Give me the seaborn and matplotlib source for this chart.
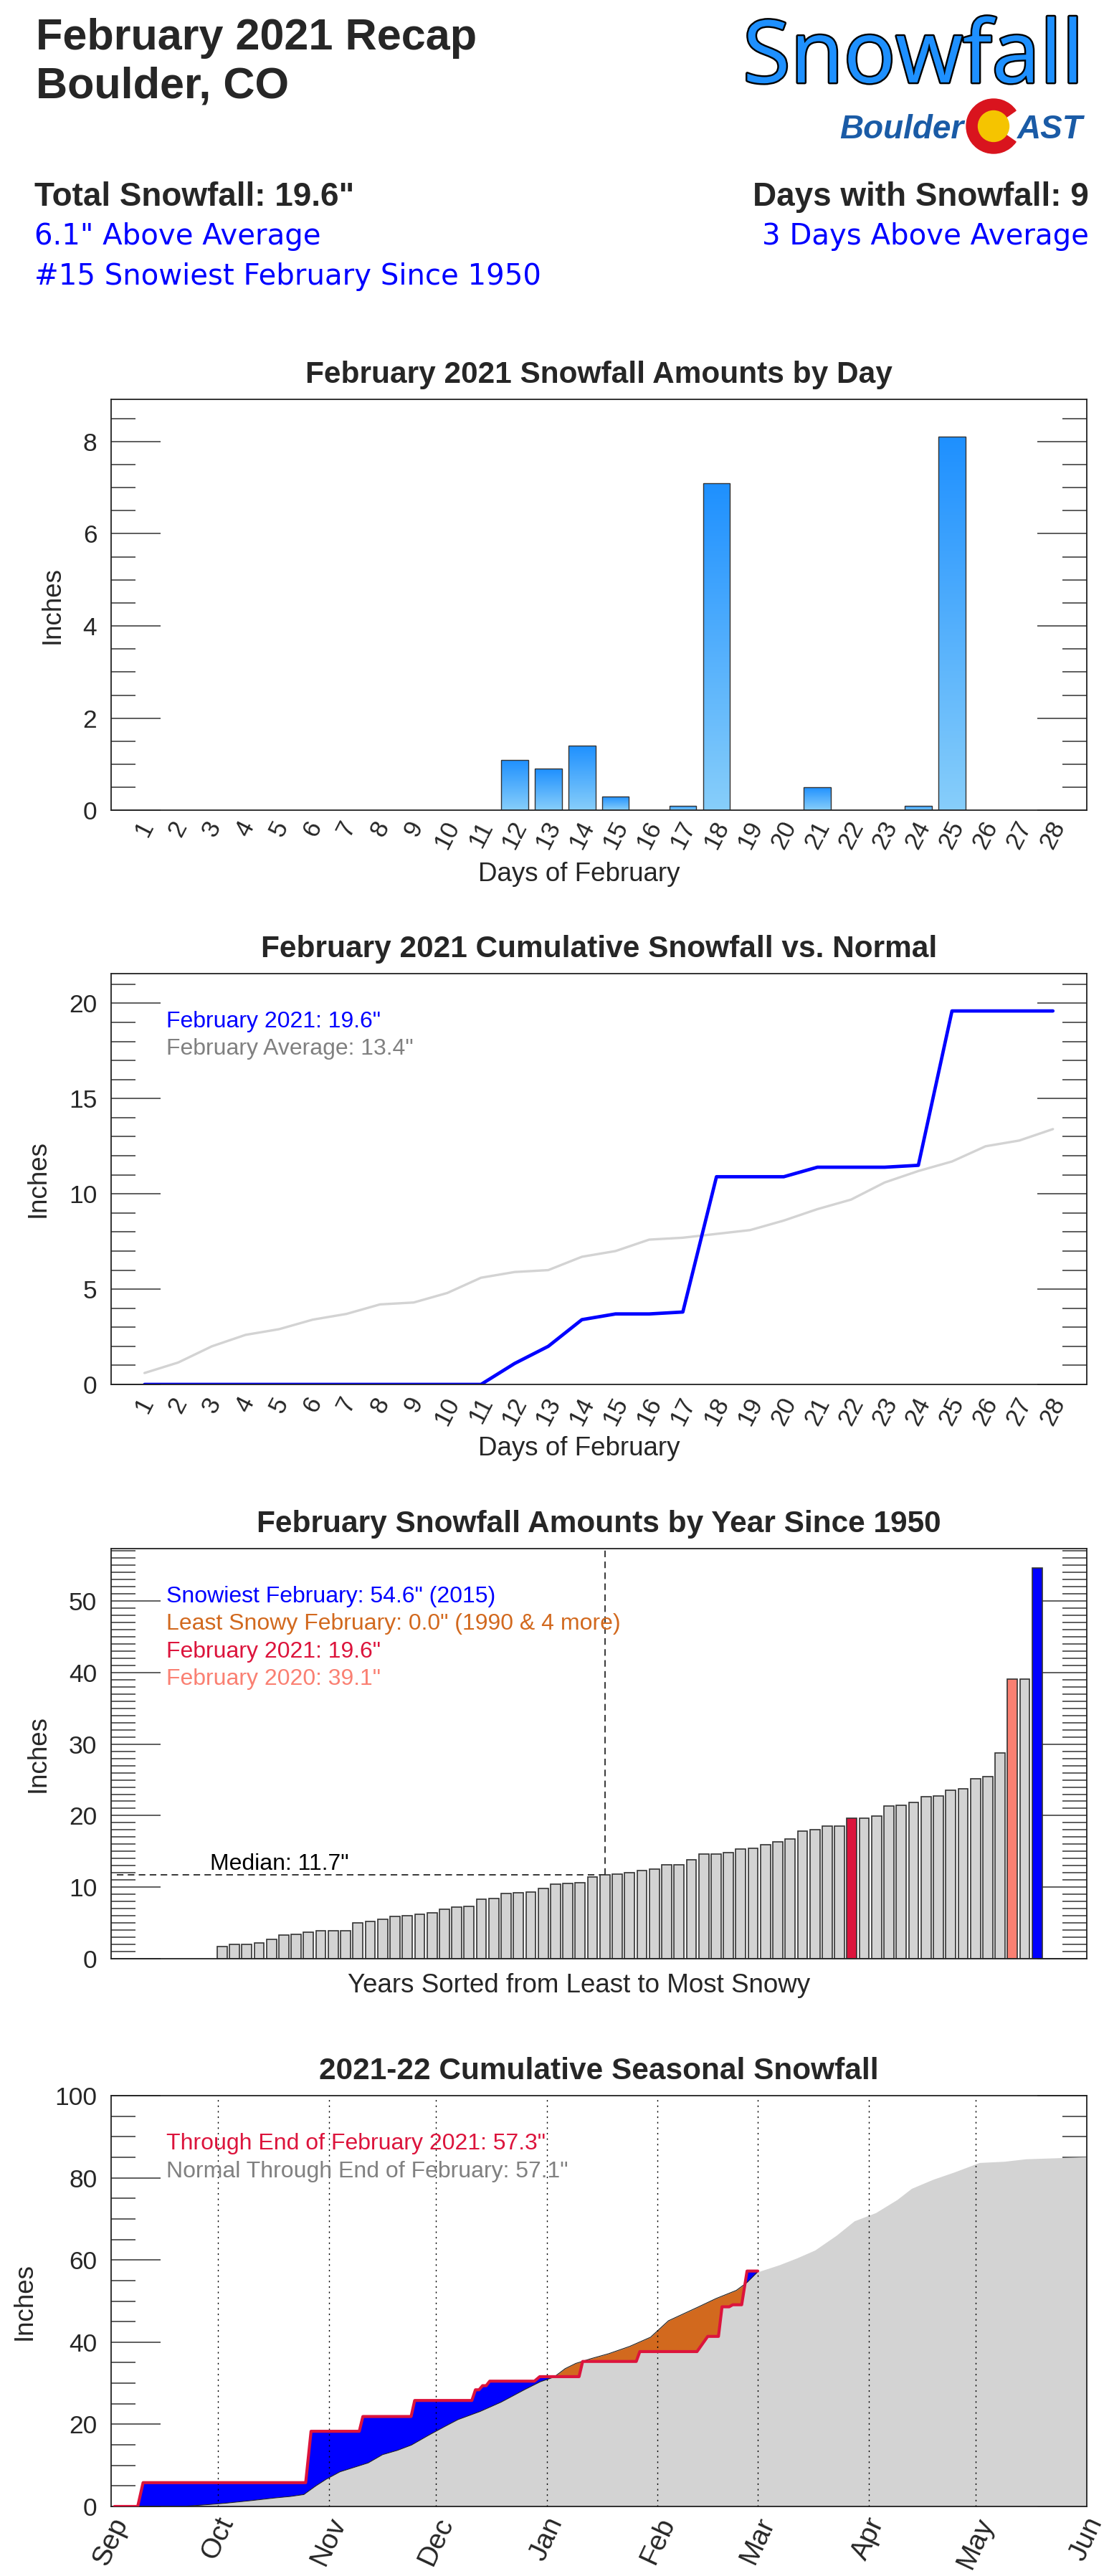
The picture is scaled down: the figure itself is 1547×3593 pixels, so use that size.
import numpy as np
import pandas as pd
import matplotlib
matplotlib.use("Agg")
import matplotlib.pyplot as plt
import seaborn as sns
from matplotlib.patches import Wedge, Circle
from matplotlib.colors import LinearSegmentedColormap
from matplotlib.ticker import MultipleLocator
import matplotlib.patheffects as pe

# ---------------- data ----------------
feb_days = list(range(1, 29))
feb_daily_snow = [0, 0, 0, 0, 0, 0, 0, 0, 0, 0, 0, 1.1, 0.9, 1.4, 0.3, 0, 0.1, 7.1,
                  0, 0, 0.5, 0, 0, 0.1, 8.1, 0, 0, 0]
feb_cum_2021 = [0, 0, 0, 0, 0, 0, 0, 0, 0, 0, 0, 1.1, 2.0, 3.4, 3.7, 3.7, 3.8, 10.9,
                10.9, 10.9, 11.4, 11.4, 11.4, 11.5, 19.6, 19.6, 19.6, 19.6]
feb_cum_normal = [0.6, 1.15, 2.0, 2.6, 2.9, 3.4, 3.7, 4.2, 4.3, 4.8, 5.6, 5.9, 6.0, 6.7,
                  7.0, 7.6, 7.7, 7.9, 8.1, 8.6, 9.2, 9.7, 10.6, 11.2, 11.7, 12.5, 12.8, 13.4]

# February totals 1950-2021, sorted least -> most snowy
year_sorted_snow = [0.0, 0.0, 0.0, 0.0, 0.0, 1.7, 2.0, 2.0, 2.2, 2.7, 3.3, 3.4, 3.7, 3.9,
                    3.9, 3.9, 5.0, 5.2, 5.5, 5.9, 6.0, 6.2, 6.4, 6.9, 7.2, 7.3, 8.3, 8.4,
                    9.1, 9.2, 9.3, 9.8, 10.4, 10.5, 10.6, 11.4, 11.7, 11.8, 12.0, 12.3,
                    12.5, 13.1, 13.1, 13.8, 14.6, 14.6, 14.8, 15.3, 15.4, 15.9, 16.3, 16.7,
                    17.8, 18.0, 18.5, 18.5, 19.6, 19.6, 19.9, 21.3, 21.4, 21.8, 22.7, 22.8,
                    23.6, 23.8, 25.2, 25.5, 28.8, 39.1, 39.1, 54.6]
year_highlight_rank = {56: '#DC143C', 69: '#FA8072', 71: '#0000FF'}  # 2021, 2020, snowiest

# season cumulative (days since Sep 1)
season_days_2021 = [1, 7.5, 9, 54.5, 56, 69.5, 70.5, 84, 85, 101, 102, 103, 104, 105, 106,
                    118.5, 120, 131, 132, 147, 148, 164, 167, 170, 171, 173, 174, 176.5, 178, 181]
season_cum_2021 = [0, 0, 5.8, 5.8, 18.3, 18.3, 21.9, 21.9, 25.8, 25.8, 28.4, 28.4, 29.4, 29.4,
                   30.5, 30.5, 31.6, 31.6, 35.3, 35.3, 37.7, 37.7, 41.4, 41.4, 48.6, 48.6,
                   49.1, 49.1, 57.3, 57.3]
normal_days = [0, 20, 25, 31, 38, 45, 50, 54, 57, 60, 64, 68, 72, 76, 80, 84, 88, 92, 97, 103,
               109, 115, 120, 124, 127, 130, 134, 139, 145, 151, 156, 163, 169, 175, 178, 181,
               187, 192, 197, 203, 208, 214, 220, 224, 230, 236, 243, 250, 256, 273]
normal_cum = [0, 0, 0.3, 0.7, 1.3, 2.0, 2.4, 2.9, 4.8, 6.5, 8.4, 9.5, 10.6, 12.6, 13.6, 14.9,
              16.9, 18.8, 21.1, 23.0, 25.3, 28.1, 30.3, 31.5, 33.5, 34.8, 35.9, 37.1, 38.9,
              41.2, 45.2, 48.0, 50.5, 52.6, 54.5, 57.1, 58.8, 60.5, 62.4, 66.0, 69.5, 71.5,
              74.7, 77.4, 79.6, 81.4, 83.7, 84.0, 84.6, 85.1]
month_labels = ['Sep', 'Oct', 'Nov', 'Dec', 'Jan', 'Feb', 'Mar', 'Apr', 'May', 'Jun']
month_offsets = [0, 30, 61, 91, 122, 153, 181, 212, 242, 273]

# ---------------- style ----------------
sns.set_style("white")
plt.rcParams['font.family'] = ['Liberation Sans', 'DejaVu Sans']

W, H = 1547, 3593
fig = plt.figure(figsize=(W / 100, H / 100), dpi=100)


def axes_px(l, t, r, b):
    return fig.add_axes([l / W, 1 - b / H, (r - l) / W, (b - t) / H])


L, R = 154.7, 1515.7
ax1 = axes_px(L, 557.3, R, 1130.3)
ax2 = axes_px(L, 1358, R, 1931)
ax3 = axes_px(L, 2160, R, 2732)
ax4 = axes_px(L, 2923, R, 3496)

TITLE_KW = dict(fontsize=30.5, fontweight='bold', pad=16.5)
LAB_FS = 26.5
LEG_FS = 23


def style_axes(ax, major, minor):
    ax.yaxis.set_major_locator(MultipleLocator(major))
    ax.yaxis.set_minor_locator(MultipleLocator(minor))
    ax.tick_params(axis='y', which='major', direction='in', length=49.7, width=1.1,
                   color='#333333', left=True, right=True, labelsize=25.5, pad=14)
    ax.tick_params(axis='y', which='minor', direction='in', length=24.5, width=1.1,
                   color='#333333', left=True, right=True)
    ax.tick_params(axis='x', which='both', length=0, bottom=False, top=False)
    for s in ax.spines.values():
        s.set_visible(True)
        s.set_linewidth(1.3)
        s.set_color('#222222')
    ax.set_ylabel('Inches', fontsize=LAB_FS, labelpad=18)


def legend_lines(ax, lines):
    for k, (txt, col) in enumerate(lines):
        ax.text(0.0566, 1 - (75 + 38.5 * k) / 573, txt, color=col, fontsize=LEG_FS,
                transform=ax.transAxes, va='baseline', ha='left', zorder=10)


# ---------------- panel 1 ----------------
df1 = pd.DataFrame({'day': feb_days, 'snow': feb_daily_snow})
sns.barplot(data=df1, x='day', y='snow', ax=ax1, color='#1E90FF', width=0.8,
            edgecolor='#333333', linewidth=1.0, saturation=1, errorbar=None)
cmap = LinearSegmentedColormap.from_list('snowgrad', ['#87CEFA', '#1E90FF'])
grad = np.linspace(0, 1, 256).reshape(-1, 1)
for p in ax1.patches:
    h = p.get_height()
    if h <= 0:
        p.set_visible(False)
        continue
    x0, w = p.get_x(), p.get_width()
    im = ax1.imshow(grad, extent=[x0, x0 + w, 0, h], origin='lower', cmap=cmap,
                    aspect='auto', zorder=0.9, interpolation='bilinear')
    im.set_clip_path(p)
    p.set_facecolor('none')
    p.set_zorder(1)
ax1.set_xlim(-1, 28)
ax1.set_ylim(0, max(feb_daily_snow) * 1.1)
style_axes(ax1, 2, 0.5)
ax1.set_title('February 2021 Snowfall Amounts by Day', **TITLE_KW)
ax1.tick_params(axis='x', labelsize=25, labelrotation=63, pad=7)
ax1.set_xlabel('Days of February', fontsize=LAB_FS, va='top')
ax1.xaxis.set_label_coords(0.48, -0.125)

# ---------------- panel 2 ----------------
df2 = pd.DataFrame({'day': feb_days, 'normal': feb_cum_normal, 'y2021': feb_cum_2021})
sns.lineplot(data=df2, x='day', y='normal', ax=ax2, color='#D3D3D3', linewidth=2.4)
sns.lineplot(data=df2, x='day', y='y2021', ax=ax2, color='#0000FF', linewidth=3.4)
ax2.set_xlim(0, 29)
ax2.set_ylim(0, max(feb_cum_2021) * 1.1)
ax2.set_xticks(feb_days)
ax2.set_xticklabels([str(d) for d in feb_days])
style_axes(ax2, 5, 1)
ax2.set_title('February 2021 Cumulative Snowfall vs. Normal', **TITLE_KW)
ax2.tick_params(axis='x', labelsize=25, labelrotation=63, pad=9)
ax2.set_xlabel('Days of February', fontsize=LAB_FS, va='top')
ax2.xaxis.set_label_coords(0.48, -0.125)
legend_lines(ax2, [('February 2021: %.1f"' % feb_cum_2021[-1], '#0000FF'),
                   ('February Average: %.1f"' % feb_cum_normal[-1], '#808080')])

# ---------------- panel 3 ----------------
n_years = len(year_sorted_snow)
df3 = pd.DataFrame({'rank': list(range(n_years)), 'snow': year_sorted_snow})
sns.barplot(data=df3, x='rank', y='snow', ax=ax3, color='#D3D3D3', width=0.8,
            edgecolor='#333333', linewidth=1.2, saturation=1, errorbar=None)
for i, p in enumerate(ax3.patches):
    if p.get_height() <= 0:
        p.set_visible(False)
    if i in year_highlight_rank:
        p.set_facecolor(year_highlight_rank[i])
ax3.set_xlim(-4, n_years + 3)
ymax3 = max(year_sorted_snow) * 1.05
ax3.set_ylim(0, ymax3)
style_axes(ax3, 10, 1)
ax3.set_xticks([])
ax3.set_title('February Snowfall Amounts by Year Since 1950', **TITLE_KW)
ax3.set_xlabel('Years Sorted from Least to Most Snowy', fontsize=LAB_FS, va='top')
ax3.xaxis.set_label_coords(0.48, -0.035)
med_i = n_years // 2
med_v = year_sorted_snow[med_i]
x0, x1 = ax3.get_xlim()
ax3.axhline(med_v, xmin=0.006, xmax=(med_i - x0) / (x1 - x0), color='black', lw=1.1,
            ls=(0, (6, 4)), zorder=0.5)
ax3.axvline(med_i, ymin=med_v / ymax3, ymax=1, color='black', lw=1.1, ls=(0, (6, 4)),
            zorder=0.5)
ax3.text(4.0, med_v + 0.7, 'Median: %.1f"' % med_v, fontsize=LEG_FS, color='black',
         va='baseline', ha='left')
legend_lines(ax3, [('Snowiest February: %.1f" (2015)' % year_sorted_snow[-1], '#0000FF'),
                   ('Least Snowy February: 0.0" (1990 & 4 more)', '#D2691E'),
                   ('February 2021: 19.6"', '#DC143C'),
                   ('February 2020: 39.1"', '#FA8072')])

# ---------------- panel 4 ----------------
grid_x = np.linspace(0, month_offsets[-1], 2731)
norm_g = np.interp(grid_x, normal_days, normal_cum)
ax4.fill_between(grid_x, 0, norm_g, color='#D3D3D3', lw=0, zorder=1)
m = grid_x <= season_days_2021[-1]
gx = grid_x[m]
red_g = np.interp(gx, season_days_2021, season_cum_2021)
ax4.fill_between(gx, norm_g[m], red_g, where=red_g >= norm_g[m], interpolate=True,
                 color='#0000FF', lw=0, zorder=2)
ax4.fill_between(gx, norm_g[m], red_g, where=red_g < norm_g[m], interpolate=True,
                 color='#D2691E', lw=0, zorder=2)
ax4.plot(gx, norm_g[m], color='#222222', lw=0.8, zorder=2.5)
for pos in month_offsets[1:-1]:
    ax4.axvline(pos, color='black', lw=1.0, ls=(0, (1.5, 4)), zorder=3)
sns.lineplot(x=season_days_2021, y=season_cum_2021, ax=ax4, color='#DC143C',
             linewidth=3.0, sort=False, zorder=4)
ax4.set_xlim(month_offsets[0], month_offsets[-1])
ax4.set_ylim(0, 100)
ax4.set_xticks(month_offsets)
ax4.set_xticklabels(month_labels)
style_axes(ax4, 20, 5)
ax4.tick_params(axis='x', labelsize=28, labelrotation=65, pad=7)
ax4.set_title('2021-22 Cumulative Seasonal Snowfall', **TITLE_KW)
ax4.set_xlabel('')
legend_lines(ax4, [('Through End of February 2021: %.1f"' % season_cum_2021[-1], '#DC143C'),
                   ('Normal Through End of February: 57.1"', '#808080')])

# ---------------- header (pixel coordinate overlay) ----------------
ov = fig.add_axes([0, 0, 1, 1], zorder=20)
ov.set_xlim(0, W)
ov.set_ylim(H, 0)
ov.axis('off')
ov.text(50, 69, 'February 2021 Recap', fontsize=44, fontweight='bold', va='baseline')
ov.text(50, 137, 'Boulder, CO', fontsize=44, fontweight='bold', va='baseline')
ov.text(48, 287, 'Total Snowfall: 19.6"', fontsize=33, fontweight='bold', va='baseline')
ov.text(48, 341, '6.1" Above Average', fontsize=29, color='#0000FF', va='baseline',
        family='DejaVu Sans')
ov.text(48, 397, '#15 Snowiest February Since 1950', fontsize=29, color='#0000FF',
        va='baseline', family='DejaVu Sans')
ov.text(1519, 287, 'Days with Snowfall: 9', fontsize=33, fontweight='bold', va='baseline',
        ha='right')
ov.text(1519, 341, '3 Days Above Average', fontsize=29, color='#0000FF', va='baseline',
        ha='right', family='DejaVu Sans')
ov.text(1512, 115, 'Snowfall', fontsize=87, color='#1E90FF', va='baseline', ha='right',
        family=['Open Sans', 'DejaVu Sans'],
        path_effects=[pe.Stroke(linewidth=3.5, foreground='black'), pe.Normal()])
ov.text(1344, 193, 'Boulder', fontsize=33, fontweight='bold', fontstyle='italic',
        color='#1A5BA6', va='baseline', ha='right')
ov.text(1511, 193, 'AST', fontsize=33, fontweight='bold', fontstyle='italic',
        color='#1A5BA6', va='baseline', ha='right')
ov.add_patch(Wedge((1386, 176), 38, 35, 325, width=16, color='#D9141E'))
ov.add_patch(Circle((1386, 176), 21.5, color='#F5C400'))

fig.savefig('out.png', dpi=100)
